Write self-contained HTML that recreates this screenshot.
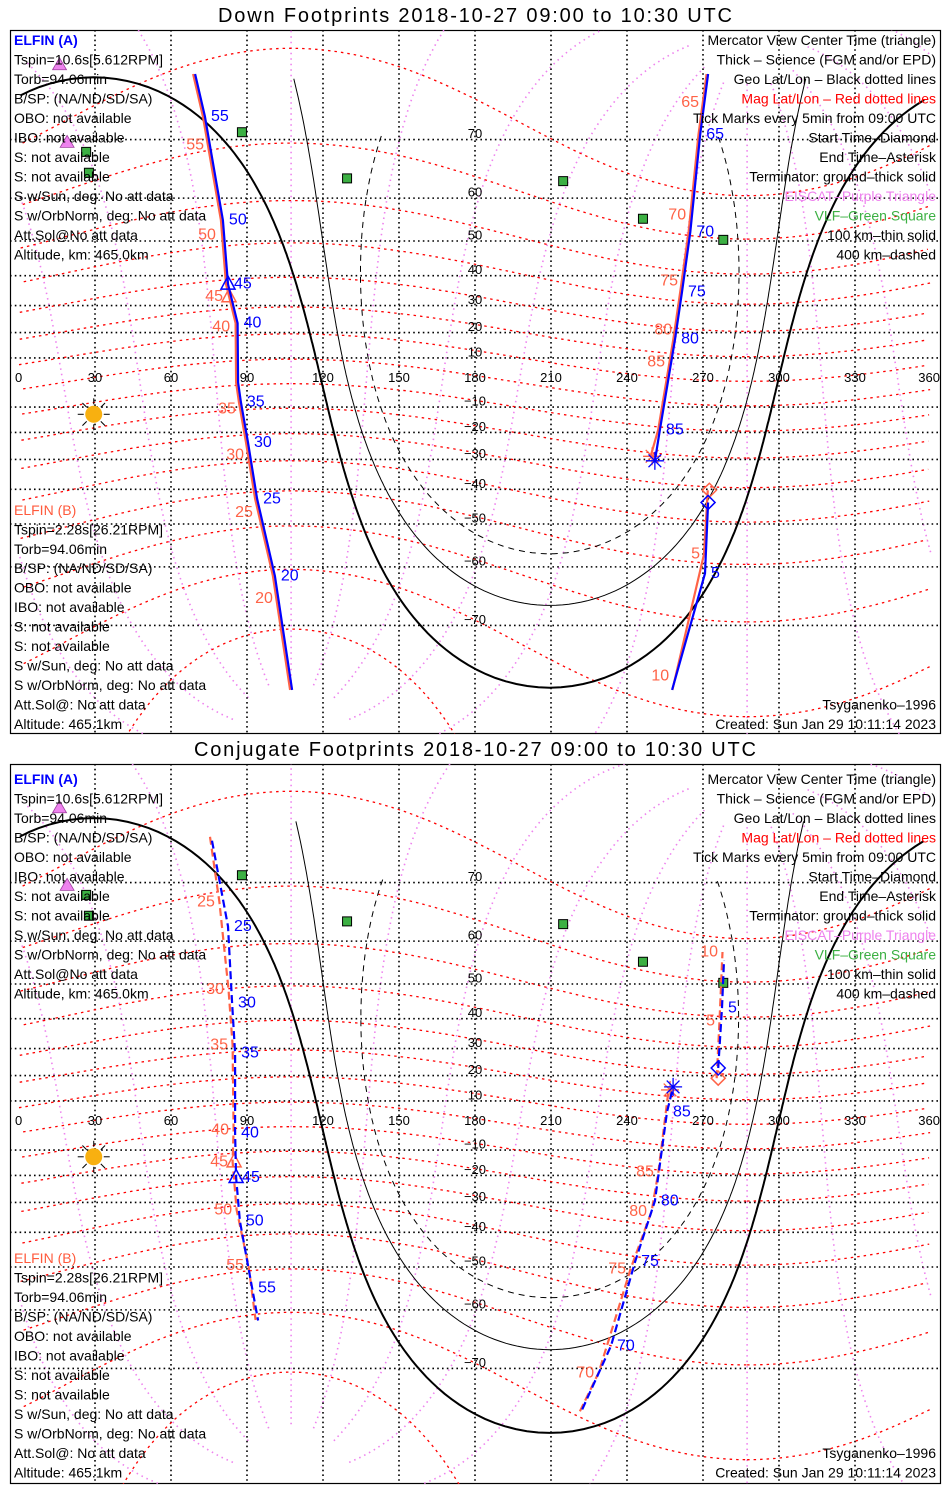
<!DOCTYPE html>
<html><head><meta charset="utf-8"><style>
html,body{margin:0;padding:0;background:#fff}
svg{display:block}
text{font-family:"Liberation Sans",sans-serif}
.t{font-size:14px;fill:#000}
.ttl{font-size:20px;fill:#000}
.lb{font-size:13px;fill:#000}
</style></head><body>
<svg id="chart" xmlns="http://www.w3.org/2000/svg" width="950" height="1500" viewBox="0 0 950 1500">
<rect x="0" y="0" width="950" height="1500" fill="#fff"/>
<g id="p1"></g>
<g id="p2"></g>

<g dominant-baseline="central">
<text class="ttl" x="475" y="16" text-anchor="middle" textLength="514">Down Footprints 2018-10-27 09:00 to 10:30 UTC</text>
<g>
<text class="t" x="14" y="40" style="fill:#0000ff;font-weight:bold">ELFIN (A)</text>
<text class="t" x="14" y="59.5">Tspin=10.6s[5.612RPM]</text>
<text class="t" x="14" y="79">Torb=94.06min</text>
<text class="t" x="14" y="98.5">B/SP: (NA/ND/SD/SA)</text>
<text class="t" x="14" y="118">OBO: not available</text>
<text class="t" x="14" y="137.5">IBO: not available</text>
<text class="t" x="14" y="157">S: not available</text>
<text class="t" x="14" y="176.5">S: not available</text>
<text class="t" x="14" y="196">S w/Sun, deg: No att data</text>
<text class="t" x="14" y="215.5">S w/OrbNorm, deg: No att data</text>
<text class="t" x="14" y="235">Att.Sol@No att data</text>
<text class="t" x="14" y="254.5">Altitude, km: 465.0km</text>
</g>
<g>
<text class="t" x="14" y="510" style="fill:#ff5a3c">ELFIN (B)</text>
<text class="t" x="14" y="529.5">Tspin=2.28s[26.21RPM]</text>
<text class="t" x="14" y="549">Torb=94.06min</text>
<text class="t" x="14" y="568">B/SP: (NA/ND/SD/SA)</text>
<text class="t" x="14" y="587.5">OBO: not available</text>
<text class="t" x="14" y="607">IBO: not available</text>
<text class="t" x="14" y="626.5">S: not available</text>
<text class="t" x="14" y="646">S: not available</text>
<text class="t" x="14" y="665.5">S w/Sun, deg: No att data</text>
<text class="t" x="14" y="685">S w/OrbNorm, deg: No att data</text>
<text class="t" x="14" y="704.5">Att.Sol@: No att data</text>
<text class="t" x="14" y="724">Altitude: 465.1km</text>
</g>
<g text-anchor="end">
<text class="t" x="936" y="40">Mercator View Center Time (triangle)</text>
<text class="t" x="936" y="59.5">Thick – Science (FGM and/or EPD)</text>
<text class="t" x="936" y="79">Geo Lat/Lon – Black dotted lines</text>
<text class="t" x="936" y="98.5" style="fill:#ff0000">Mag Lat/Lon – Red dotted lines</text>
<text class="t" x="936" y="118">Tick Marks every 5min from 09:00 UTC</text>
<text class="t" x="936" y="137.5">Start Time–Diamond</text>
<text class="t" x="936" y="157">End Time–Asterisk</text>
<text class="t" x="936" y="176.5">Terminator: ground–thick solid</text>
<text class="t" x="936" y="196" style="fill:#ee82ee">EISCAT–Purple Triangle</text>
<text class="t" x="936" y="215.5" style="fill:#3cb043">VLF–Green Square</text>
<text class="t" x="936" y="235">100 km–thin solid</text>
<text class="t" x="936" y="254.5">400 km–dashed</text>
<text class="t" x="936" y="704.5">Tsyganenko–1996</text>
<text class="t" x="936" y="724">Created: Sun Jan 29 10:11:14 2023</text>
</g>
</g>

<g dominant-baseline="central">
<text class="ttl" x="475" y="750" text-anchor="middle" textLength="562">Conjugate Footprints 2018-10-27 09:00 to 10:30 UTC</text>
<g>
<text class="t" x="14" y="779" style="fill:#0000ff;font-weight:bold">ELFIN (A)</text>
<text class="t" x="14" y="798.5">Tspin=10.6s[5.612RPM]</text>
<text class="t" x="14" y="818">Torb=94.06min</text>
<text class="t" x="14" y="837.5">B/SP: (NA/ND/SD/SA)</text>
<text class="t" x="14" y="857">OBO: not available</text>
<text class="t" x="14" y="876.5">IBO: not available</text>
<text class="t" x="14" y="896">S: not available</text>
<text class="t" x="14" y="915.5">S: not available</text>
<text class="t" x="14" y="935">S w/Sun, deg: No att data</text>
<text class="t" x="14" y="954.5">S w/OrbNorm, deg: No att data</text>
<text class="t" x="14" y="974">Att.Sol@No att data</text>
<text class="t" x="14" y="993.5">Altitude, km: 465.0km</text>
</g>
<g>
<text class="t" x="14" y="1258" style="fill:#ff5a3c">ELFIN (B)</text>
<text class="t" x="14" y="1277.5">Tspin=2.28s[26.21RPM]</text>
<text class="t" x="14" y="1297">Torb=94.06min</text>
<text class="t" x="14" y="1316.5">B/SP: (NA/ND/SD/SA)</text>
<text class="t" x="14" y="1336">OBO: not available</text>
<text class="t" x="14" y="1355.5">IBO: not available</text>
<text class="t" x="14" y="1375">S: not available</text>
<text class="t" x="14" y="1394.5">S: not available</text>
<text class="t" x="14" y="1414">S w/Sun, deg: No att data</text>
<text class="t" x="14" y="1433.5">S w/OrbNorm, deg: No att data</text>
<text class="t" x="14" y="1453">Att.Sol@: No att data</text>
<text class="t" x="14" y="1472.5">Altitude: 465.1km</text>
</g>
<g text-anchor="end">
<text class="t" x="936" y="779">Mercator View Center Time (triangle)</text>
<text class="t" x="936" y="798.5">Thick – Science (FGM and/or EPD)</text>
<text class="t" x="936" y="818">Geo Lat/Lon – Black dotted lines</text>
<text class="t" x="936" y="837.5" style="fill:#ff0000">Mag Lat/Lon – Red dotted lines</text>
<text class="t" x="936" y="857">Tick Marks every 5min from 09:00 UTC</text>
<text class="t" x="936" y="876.5">Start Time–Diamond</text>
<text class="t" x="936" y="896">End Time–Asterisk</text>
<text class="t" x="936" y="915.5">Terminator: ground–thick solid</text>
<text class="t" x="936" y="935" style="fill:#ee82ee">EISCAT–Purple Triangle</text>
<text class="t" x="936" y="954.5" style="fill:#3cb043">VLF–Green Square</text>
<text class="t" x="936" y="974">100 km–thin solid</text>
<text class="t" x="936" y="993.5">400 km–dashed</text>
<text class="t" x="936" y="1453">Tsyganenko–1996</text>
<text class="t" x="936" y="1472.5">Created: Sun Jan 29 10:11:14 2023</text>
</g>
</g>
</svg>
<script>
// ---- data ----
const lonTicks = [0,30,60,90,120,150,180,210,240,270,300,330,360];
const latTicks = [70,60,50,40,30,20,10,-10,-20,-30,-40,-50,-60,-70];
const magLats = [-80,-70,-60,-50,-40,-30,-20,-10,0,10,20,30,40,50,60,70];
const magLons = [0,30,60,90,120,150,180,210,240,270,300,330];
const dipolePole = [287.4, 80.5];
const sunLon = [29.5, 29.5];
const sunLat = [-12.9, -12.7];
const termRadius = [90, 100.1, 109.9];
const termMaxLat = [80, 77.5, 71];
const vlfLon = [88, 129.5, 214.8, 246.3, 278, 26.5, 27.6];
const vlfLat = [71, 63.8, 63.3, 55.5, 50.3, 68.2, 64.8];
const eiscatLon = [19, 16];
const eiscatLat = [69.6, 78.2];

// panel 1 ELFIN A
const p1A_path = [
  [[272,-44],[270.8,-61.3],[257.8,-77.3]],
  [[107.8,-77.3],[101,-61.8],[94,-42.9],[90.4,-23.8],[87.6,-8],[86.5,0],[86.3,23.6],[82.5,37.3],[80.5,55.2],[73.4,73],[69.5,77.4]],
  [[272,77.4],[268.9,70.7],[265,52.3],[261.7,34.7],[259,17.6],[253,-19],[251,-30.5]]
];
const p1A_tickTimes = [5,20,25,30,35,40,45,50,55,65,70,75,80,85];
const p1A_tickLon = [270.8,101,94,90.4,87.6,86.3,82.5,80.5,73.4,268.9,265,261.7,259,253];
const p1A_tickLat = [-61.3,-61.8,-42.9,-23.8,-8,23.6,37.3,55.2,73,70.7,52.3,34.7,17.6,-19];
const p1A_marks = {start:[272,-44], end:[251,-30.5], center:[82.5,37.3]};
// panel 1 ELFIN B
const p1B_path = [
  [[272.5,-40.3],[271,-57.3],[258.5,-77.3]],
  [[107.6,-77.3],[100.8,-61.8],[93.8,-42.9],[90.2,-23.8],[87.4,-8],[86.3,0],[86.1,23.6],[82.3,37.3],[80.3,55.2],[73.2,73],[69.3,77.4]],
  [[272,77.4],[268.8,70.7],[264.9,52.3],[261.6,34.7],[258.9,17.6],[252.9,-19],[249.9,-28.9]]
];
const p1B_tickTimes = [5,10,20,25,30,35,40,45,50,55,65,70,75,80,85];
const p1B_tickLon = [271.2,259,102.6,94.7,91.2,88,85.7,82.9,80.1,75.4,270.8,265.7,262.5,260.2,257.4];
const p1B_tickLat = [-57.3,-76,-65.9,-46.9,-28.4,-10.8,22.1,33.1,51.5,69.2,74.6,56.4,38.3,21,8.4];
const p1B_marks = {start:[272.5,-40.3], end:[249.9,-28.9], center:[82.9,33.1]};

// panel 2 ELFIN A (conjugate)
const p2A_path = [
  [[276,22.9],[277.5,43.3],[278.3,55.9]],
  [[76.2,75.1],[82.5,62.9],[84.1,44.7],[85.3,28.4],[85.3,-3.1],[85.7,-20.8],[87.2,-36.4],[92,-55.2],[94.4,-62.1]],
  [[222.3,-75],[233.7,-66.6],[243.2,-48.6],[251,-29.5],[255.8,5.5],[258.2,15.6]]
];
const p2A_tickTimes = [5,25,30,35,40,45,50,55,70,75,80,85];
const p2A_tickLon = [277.5,82.5,84.1,85.3,85.3,85.7,87.2,92,233.7,243.2,251,255.8];
const p2A_tickLat = [43.3,62.9,44.7,28.4,-3.1,-20.8,-36.4,-55.2,-66.6,-48.6,-29.5,5.5];
const p2A_marks = {start:[276,22.9], end:[258.2,15.6], center:[85.7,-20.8]};
// panel 2 ELFIN B
const p2B_path = [
  [[276,19],[277.1,39.3],[278.3,57.7]],
  [[76,75.5],[79.7,67.1],[83.3,48.6],[84.9,31.3],[85.3,-1.8],[84.9,-14.7],[86.5,-32.6],[91.2,-49.6],[94,-62]],
  [[222,-75.2],[229.4,-70.6],[242,-50.5],[250.3,-33.1],[253,-18.6],[257,14.4]]
];
const p2B_tickTimes = [5,10,25,30,35,40,45,50,55,70,75,80,85];
const p2B_tickLon = [277.1,278.3,79.7,83.3,84.9,85.3,84.9,86.5,91.2,229.4,242,250.3,253];
const p2B_tickLat = [39.3,57.7,67.1,48.6,31.3,-1.8,-14.7,-32.6,-49.6,-70.6,-50.5,-33.1,-18.6];
const p2B_marks = {start:[276,19], end:[257,14.4], center:[84.9,-14.7]};

// ---- drawing ----
const NS = 'http://www.w3.org/2000/svg';
const D = Math.PI/180;
const BLUE = '#0000ff';
function mk(tag, attrs, parent){ const e=document.createElementNS(NS,tag); for(const k in attrs) e.setAttribute(k,attrs[k]); parent.appendChild(e); return e; }

function drawPanel(gid, P){
  const g = document.getElementById(gid);
  const X = lon => 19 + lon*(912/360);
  const Y = lat => P.eq - 140*Math.log(Math.tan(Math.PI/4 + lat*D/2));
  const cid = 'clip'+gid;
  const defs = mk('defs',{},g);
  const cp = mk('clipPath',{id:cid},defs);
  mk('rect',{x:10,y:P.top,width:931,height:P.bot-P.top},cp);
  const box = mk('rect',{x:10.5,y:P.top+0.5,width:930,height:P.bot-P.top-1,fill:'none',stroke:'#000','stroke-width':1.2},g);
  
  
  const m = mk('g',{'clip-path':'url(#'+cid+')'},g);

  function pathFrom(pts, maxJump){
    let d='', prev=null;
    for(const p of pts){
      if(!p){ prev=null; continue; }
      const x=X(p[0]), y=Y(p[1]);
      if(prev===null || Math.abs(x-prev)>maxJump) d+='M'+x.toFixed(1)+' '+y.toFixed(1);
      else d+='L'+x.toFixed(1)+' '+y.toFixed(1);
      prev=x;
    }
    return d;
  }
  function toGeo(L,M){
    const cl=Math.cos(L*D), mx=cl*Math.cos(M*D), my=cl*Math.sin(M*D), mz=Math.sin(L*D);
    const th=(90-dipolePole[1])*D, ph=dipolePole[0]*D;
    const x1=mx*Math.cos(th)+mz*Math.sin(th), z1=-mx*Math.sin(th)+mz*Math.cos(th), y1=my;
    const x2=x1*Math.cos(ph)-y1*Math.sin(ph), y2=x1*Math.sin(ph)+y1*Math.cos(ph);
    let lon=Math.atan2(y2,x2)/D; lon=(lon%360+360)%360;
    return [lon, Math.asin(Math.max(-1,Math.min(1,z1)))/D];
  }
  const gml = mk('g',{},m);
  
  
  magLons.forEach(M=>{
    const pts=[]; for(let L=-86;L<=86;L+=1){ const q=toGeo(L,M); pts.push(Math.abs(q[1])<84?q:null); }
    const p=mk('path',{d:pathFrom(pts,200),fill:'none',stroke:'#ee82ee','stroke-width':1.6,'stroke-dasharray':'1.5 4'},gml);
    
    
  });
  const gg = mk('g',{},m);
  
  
  latTicks.forEach(lat=>{
    const l=mk('line',{x1:10,x2:941,y1:Y(lat),y2:Y(lat),stroke:'#000','stroke-width':1.6,'stroke-dasharray':'1.6 3.2'},gg);
    
    
  });
  lonTicks.slice(1,-1).forEach(lon=>{
    const l=mk('line',{x1:X(lon),x2:X(lon),y1:P.top,y2:P.bot,stroke:'#000','stroke-width':1.6,'stroke-dasharray':'1.6 3.2'},gg);
    
    
  });
  const gmr = mk('g',{},m);
  
  
  magLats.forEach(L=>{
    const pts=[]; for(let M=0;M<=360;M+=2){ const q=toGeo(L,M); pts.push(Math.abs(q[1])<84?q:null); }
    const p=mk('path',{d:pathFrom(pts,200),fill:'none',stroke:'#ff0000','stroke-width':1.3,'stroke-dasharray':'2.5 4'},gmr);
    
    
  });
  const gt = mk('g',{},m);
  
  
  termRadius.forEach((r,i)=>{
    const la0=sunLat[P.idx]*D, lo0=sunLon[P.idx]*D, rr=r*D;
    const seq=[];
    for(let b=0;b<=360;b+=1){
      const bb=b*D;
      const la=Math.asin(Math.sin(la0)*Math.cos(rr)+Math.cos(la0)*Math.sin(rr)*Math.cos(bb));
      let lo=lo0+Math.atan2(Math.sin(bb)*Math.sin(rr)*Math.cos(la0), Math.cos(rr)-Math.sin(la0)*Math.sin(la));
      lo=((lo/D)%360+360)%360;
      seq.push(la/D>termMaxLat[i]||la/D<-82?null:[lo,la/D]);
    }
    const attrs={d:pathFrom(seq,300),fill:'none',stroke:'#000','stroke-width':i===0?2:1};
    if(i===2) attrs['stroke-dasharray']='6 5';
    const p=mk('path',attrs,gt);
    
    
  });
  const gl = mk('g',{},g);
  
  
  lonTicks.forEach(lon=>{
    const t=mk('text',{x:X(lon),y:Y(0)-5,'text-anchor':lon===0?'start':(lon===360?'end':'middle'),'dominant-baseline':'central',class:'lb'},gl);
    if(lon===0) t.setAttribute('x',X(lon)-4);
    if(lon===360) t.setAttribute('x',X(lon)+9);
    t.textContent=String(lon);
    
    
  });
  latTicks.forEach(lat=>{
    const t=mk('text',{x:X(180),y:Y(lat)-6,'text-anchor':'middle','dominant-baseline':'central',class:'lb'},gl);
    t.textContent=(lat<0?'\u2212':'')+Math.abs(lat);
    
    
  });
  vlfLon.forEach((lo,i)=>{
    const s=mk('rect',{x:X(lo)-4.5,y:Y(vlfLat[i])-4.5,width:9,height:9,fill:'#3cb043',stroke:'#000','stroke-width':1},g);
    
    
  });
  eiscatLon.forEach((lo,i)=>{
    const x=X(lo), y=Y(eiscatLat[i]);
    const t=mk('polygon',{points:`${x},${y-7} ${x-7},${y+5} ${x+7},${y+5}`,fill:'#ee82ee',stroke:'#a040a0','stroke-width':0.8},g);
    
    
  });
  const sx=X(sunLon[P.idx]), sy=Y(sunLat[P.idx]);
  const sg=mk('g',{},g);
  
  
  for(let a=0;a<360;a+=45){ const c=Math.cos(a*D), s=Math.sin(a*D); mk('line',{x1:sx+c*10,y1:sy+s*10,x2:sx+c*16,y2:sy+s*16,stroke:'#000','stroke-width':1},sg); }
  mk('circle',{cx:sx,cy:sy,r:8.5,fill:'#f8b010'},sg);

  function track(path,times,tlon,tlat,marks,color,isA){
    const tg=mk('g',{},g);
    
    
    path.forEach(seg=>{
      const a={d:pathFrom(seg,400),fill:'none',stroke:color,'stroke-width':isA?2.2:2.2};
      if(P.dashed) a['stroke-dasharray']='8 4';
      if(!isA) a.transform='translate(-1.5,0)';
      const p=mk('path',a,tg);
      
      
    });
    times.forEach((tm,i)=>{
      const x=X(tlon[i]), y=Y(tlat[i]);
      const t=mk('text',{x:isA?x+6:x-6,y:y,'text-anchor':isA?'start':'end','dominant-baseline':'central','font-size':16,fill:color},tg);
      t.textContent=String(tm);
      
      
    });
    let x=X(marks.start[0]), y=Y(marks.start[1]);
    const dm=mk('polygon',{points:`${x},${y-7} ${x+7},${y} ${x},${y+7} ${x-7},${y}`,fill:'none',stroke:color,'stroke-width':1.5},tg);
    
    
    x=X(marks.end[0]); y=Y(marks.end[1]);
    const as=mk('g',{stroke:color,'stroke-width':1.3},tg);
    
    
    for(let a=0;a<180;a+=45){ const c=Math.cos(a*D)*9, s=Math.sin(a*D)*9; mk('line',{x1:x-c,y1:y-s,x2:x+c,y2:y+s},as); }
    x=X(marks.center[0]); y=Y(marks.center[1]);
    const tr=mk('polygon',{points:`${x},${y-8} ${x-7},${y+5} ${x+7},${y+5}`,fill:'none',stroke:color,'stroke-width':1.5},tg);
    
    
  }
  track(P.B.path,P.B.times,P.B.lon,P.B.lat,P.B.marks,'#ff6347',false);
  track(P.A.path,P.A.times,P.A.lon,P.A.lat,P.A.marks,BLUE,true);
}

drawPanel('p1',{idx:0,eq:382.5,top:30,bot:734,dashed:false,
  A:{path:p1A_path,times:p1A_tickTimes,lon:p1A_tickLon,lat:p1A_tickLat,marks:p1A_marks},
  B:{path:p1B_path,times:p1B_tickTimes,lon:p1B_tickLon,lat:p1B_tickLat,marks:p1B_marks}});
drawPanel('p2',{idx:1,eq:1125.5,top:764,bot:1484,dashed:true,
  A:{path:p2A_path,times:p2A_tickTimes,lon:p2A_tickLon,lat:p2A_tickLat,marks:p2A_marks},
  B:{path:p2B_path,times:p2B_tickTimes,lon:p2B_tickLon,lat:p2B_tickLat,marks:p2B_marks}});
</script>
</body></html>
